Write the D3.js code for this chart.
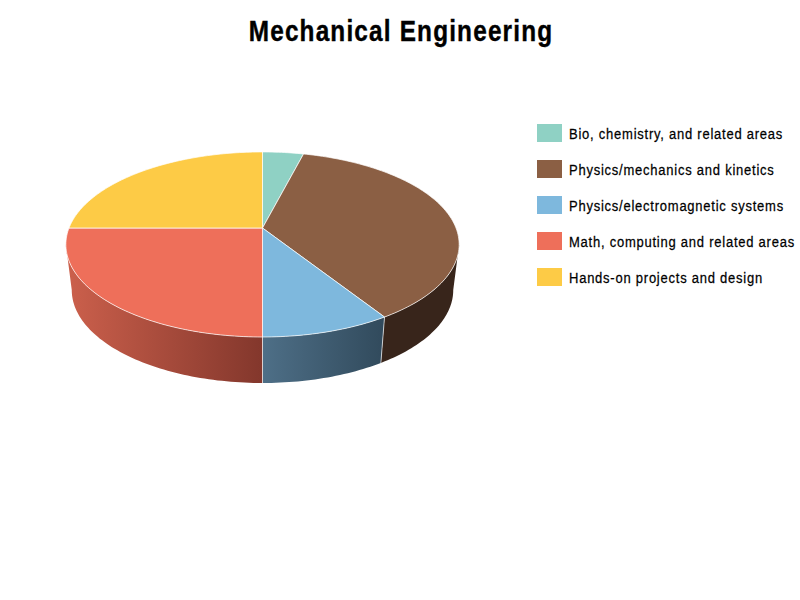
<!DOCTYPE html>
<html lang="en">
<head>
<meta charset="utf-8" />
<title>Mechanical Engineering</title>
<style>
  html, body { margin: 0; background: #fff; }
  svg { display: block; }
  text { font-family: "Liberation Sans", sans-serif; fill: #000; }
</style>
</head>
<body>
<div id="chart"></div>
<script src="https://d3js.org/d3.v7.min.js"></script>
<script>
const categories = [
  "Bio, chemistry, and related areas",
  "Physics/mechanics and kinetics",
  "Physics/electromagnetic systems",
  "Math, computing and related areas",
  "Hands-on projects and design"
];
const shares = [4, 37, 9, 25, 25];
const topColors = ["#8fd1c4", "#8b5f44", "#7eb8dd", "#ee6f5a", "#fdcb46"];
const sideFrom = ["#5a8379", "#38251b", "#4e6f87", "#cc604c", "#9c7f2c"];
const sideTo = ["#5a8379", "#38251b", "#314a5c", "#83372c", "#9c7f2c"];

const width = 800, height = 600;
const svg = d3.select("#chart").append("svg").attr("width", width).attr("height", height);

// tilted disc: perspective factor k makes the near half look bigger
const k = 0.178;
const cx = 262.5;
const topDisc = { a: 193.5, b: 89.6, cy: 228 };
const lowDisc = { a: 187.7, b: 90, cy: 273.5 };
const visible = [Math.PI / 2 + Math.asin(k), 3 * Math.PI / 2 - Math.asin(k)];

function project(disc, angle) {
  const X = Math.sin(angle), Y = -Math.cos(angle);
  const w = 1 - k * Y;
  return [cx + disc.a * X / w, disc.cy + disc.b * Y / w];
}

function arcPoints(disc, a0, a1) {
  const n = Math.max(2, Math.ceil(Math.abs(a1 - a0) / 0.02));
  return d3.range(n + 1).map(i => project(disc, a0 + (a1 - a0) * i / n));
}

const line = d3.line();
const pie = d3.pie().sort(null).value(d => d)(shares);
const color = d3.scaleOrdinal().domain(categories).range(topColors);

const defs = svg.append("defs");

pie.forEach((s, i) => {
  const a0 = Math.max(s.startAngle, visible[0]);
  const a1 = Math.min(s.endAngle, visible[1]);
  s.sideVisible = a1 > a0;
  s.a0 = a0; s.a1 = a1;
  if (!s.sideVisible) return;
  const xs = [project(topDisc, a0)[0], project(topDisc, a1)[0]];
  const grad = defs.append("linearGradient")
    .attr("id", "side" + i)
    .attr("gradientUnits", "userSpaceOnUse")
    .attr("x1", Math.min(...xs)).attr("x2", Math.max(...xs))
    .attr("y1", 0).attr("y2", 0);
  grad.append("stop").attr("offset", 0).attr("stop-color", sideFrom[i]);
  grad.append("stop").attr("offset", 1).attr("stop-color", sideTo[i]);
});

// side wall
const sides = svg.append("g");
pie.filter(s => s.sideVisible).forEach(s => {
  const pts = arcPoints(topDisc, s.a0, s.a1).concat(arcPoints(lowDisc, s.a1, s.a0));
  sides.append("path")
    .attr("d", line(pts) + "Z")
    .attr("fill", `url(#side${s.index})`);
});
pie.forEach(s => {
  if (s.startAngle <= visible[0] || s.startAngle >= visible[1]) return;
  sides.append("path")
    .attr("d", line([project(topDisc, s.startAngle), project(lowDisc, s.startAngle)]))
    .attr("stroke", "#fff").attr("stroke-opacity", 0.65).attr("stroke-width", 1).attr("fill", "none");
});

// top face
svg.append("g").selectAll("path").data(pie).join("path")
  .attr("d", s => line([[cx, topDisc.cy]].concat(arcPoints(topDisc, s.startAngle, s.endAngle))) + "Z")
  .attr("fill", (s, i) => color(categories[i]))
  .attr("stroke", "#fff").attr("stroke-opacity", 0.7).attr("stroke-width", 1).attr("stroke-linejoin", "round");

// no narrow font installed, so squeeze the text horizontally
svg.append("text")
  .attr("transform", "translate(401,41) scale(0.84,1)")
  .attr("text-anchor", "middle")
  .attr("font-size", 29).attr("font-weight", 700).attr("letter-spacing", 1.4)
  .attr("stroke", "#000").attr("stroke-width", 0.4)
  .text("Mechanical Engineering");

// legend
const legendY = d3.scalePoint().domain(categories).range([124, 268]);
const legend = svg.append("g").selectAll("g").data(categories).join("g")
  .attr("transform", d => `translate(537,${legendY(d)})`);
legend.append("rect").attr("width", 25).attr("height", 18).attr("fill", d => color(d));
legend.append("text")
  .attr("transform", "translate(32,14.5) scale(0.84,1)")
  .attr("font-size", 15.5).attr("letter-spacing", 0.9).attr("stroke", "#000").attr("stroke-width", 0.25)
  .text(d => d);
</script>
</body>
</html>
